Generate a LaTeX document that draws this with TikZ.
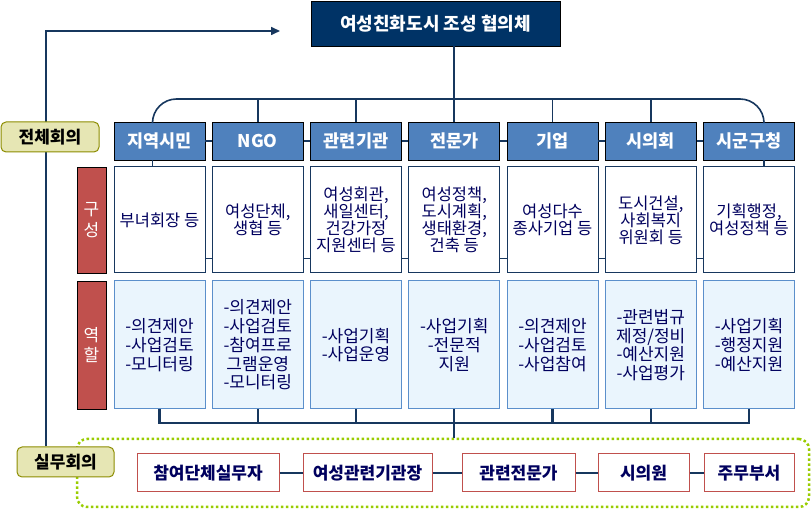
\documentclass[tikz,border=0pt]{standalone}
\usepackage{fontspec}
\setmainfont{Noto Sans CJK KR}
\usetikzlibrary{arrows.meta}
\definecolor{titlenavy}{HTML}{003366}
\definecolor{linenavy}{HTML}{17375E}
\definecolor{headblue}{HTML}{4F81BD}
\definecolor{roleblue}{HTML}{5B8FCB}
\definecolor{rolefill}{HTML}{EAF5FD}
\definecolor{sidered}{HTML}{C0504D}
\definecolor{meetfill}{HTML}{E6E6B4}
\definecolor{meetline}{HTML}{8C8C00}
\definecolor{worklime}{HTML}{99CC00}
\definecolor{textnavy}{HTML}{00005E}
\tikzset{
	link/.style={draw=linenavy, line width=1.6pt},
	headbox/.style={draw=black, line width=0.8pt, fill=headblue, text=white, font=\fontsize{17.5}{19}\selectfont\bfseries, minimum width=91pt, minimum height=38pt, inner xsep=0pt},
	compbox/.style={draw=linenavy, line width=1pt, fill=white, text=textnavy, font=\fontsize{16.5}{17}\selectfont, align=center, minimum width=91pt, minimum height=106pt, inner xsep=0pt},
	rolebox/.style={draw=roleblue, line width=1pt, fill=rolefill, text=textnavy, font=\fontsize{17}{18.7}\selectfont, align=center, minimum width=91pt, minimum height=128pt, inner xsep=0pt},
	sidebox/.style={draw=black, line width=0.8pt, fill=sidered, text=white, font=\fontsize{17}{20.5}\selectfont, align=center, minimum width=29pt, inner xsep=0pt},
	meetbox/.style={draw=meetline, line width=1pt, fill=meetfill, rounded corners=5pt, font=\fontsize{17}{19}\selectfont\bfseries, minimum width=97pt, minimum height=30pt},
	memberbox/.style={draw=sidered, line width=1pt, fill=white, text=textnavy, font=\fontsize{17}{19}\selectfont\bfseries, minimum height=38pt, inner xsep=0pt}
}
\begin{document}
\begin{tikzpicture}[x=1pt, y=-1pt]
	\useasboundingbox (0,0) rectangle (812,510);
	\node[draw=black, line width=0.8pt, fill=titlenavy, text=white, font=\fontsize{18}{19}\selectfont\bfseries, minimum width=249pt, minimum height=45pt] (title) at (435.5,23.5) {여성친화도시 조성 협의체};
	\foreach \i/\hd/\cp/\rl in {
		1/지역시민/부녀회장 등/{-의견제안\\-사업검토\\-모니터링},
		2/NGO/{여성단체,\\생협 등}/{-의견제안\\-사업검토\\-참여프로\\그램운영\\-모니터링},
		3/관련기관/{여성회관,\\새일센터,\\건강가정\\지원센터 등}/{-사업기획\\-사업운영},
		4/전문가/{여성정책,\\도시계획,\\생태환경,\\건축 등}/{-사업기획\\-전문적\\지원},
		5/기업/{여성다수\\종사기업 등}/{-의견제안\\-사업검토\\-사업참여},
		6/시의회/{도시건설,\\사회복지\\위원회 등}/{-관련법규\\제정/정비\\-예산지원\\-사업평가},
		7/시군구청/{기획행정,\\여성정책 등}/{-사업기획\\-행정지원\\-예산지원}}
	{
		\pgfmathsetmacro\cx{159.5+98.25*(\i-1)}
		\node[headbox] (h\i) at (\cx,141) {\hd};
		\node[compbox] (c\i) at (\cx,220) {\cp};
		\node[rolebox] (r\i) at (\cx,345) {\rl};
	}
	\node[sidebox, minimum height=106pt] (gu) at (91.5,220) {구\\성};
	\node[sidebox, minimum height=128pt] (yeok) at (91.5,345) {역\\할};
	
	\node[draw=worklime, line width=2.5pt, dash pattern=on 2.5pt off 2.5pt, rounded corners=10pt, minimum width=732pt, minimum height=68pt] (work) at (443,473) {};
	\node[meetbox] (silmu) at (65.5,462) {실무회의};
	\node[memberbox, minimum width=142pt] (b1) at (208,473) {참여단체실무자};
	\node[memberbox, minimum width=129pt] (b2) at (367.5,473) {여성관련기관장};
	\node[memberbox, minimum width=113pt] (b3) at (518.5,473) {관련전문가};
	\node[memberbox, minimum width=91pt] (b4) at (643.5,473) {시의원};
	\node[memberbox, minimum width=90pt] (b5) at (749,473) {주무부서};
	
	\coordinate (bus) at (455,99);
	\coordinate (rbus) at (0,423);
	\coordinate (arrtip) at (280,31);
	\draw[link] (title.south -| h4.north) -- (h4.north);
	\draw[link, rounded corners=24pt] ([xshift=-7pt]h1.north) |- (bus) -| ([xshift=15pt]h7.north);
	\foreach \i in {2,3,5,6}
	\draw[link] (h\i.north) -- (h\i.north |- bus);
	\draw[link] ([xshift=-7pt]h1.south) -- ([xshift=-7pt]c1.north);
	\draw[link] ([xshift=15pt]h7.south) -- ([xshift=15pt]c7.north);
	\foreach \i [count=\j from 2] in {1,...,6}
	{
		\draw[link] (h\i.east) -- (h\j.west);
		\draw[link] ([yshift=15pt]c\i.south east) -- ([yshift=15pt]c\j.south west);
	}
	\draw[link, line width=2.2pt] (r1.south) -- (r1.south |- rbus) -- (r7.south |- rbus) -- (r7.south);
	\foreach \i in {2,...,6}
	\draw[link, line width=2.2pt] (r\i.south) -- (r\i.south |- rbus);
	\draw[link, line width=2.2pt] (r4.south |- rbus) -- (r4.south |- work.north);
	\foreach \i [count=\j from 2] in {1,...,4}
	\draw[link] (b\i.east) -- (b\j.west);
	\draw[link, -{Triangle[length=9pt,width=8pt]}] ([xshift=-19.5pt]silmu.north) |- (arrtip);
	
	\node[meetbox, minimum width=98pt] (jeonche) at (50,137) {전체회의};
\end{tikzpicture}
\end{document}
